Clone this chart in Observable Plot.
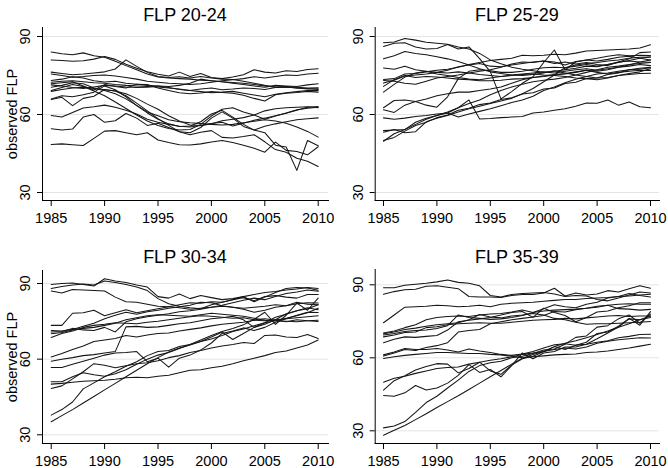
<!DOCTYPE html>
<html>
<head>
<meta charset="utf-8">
<script src="https://cdn.jsdelivr.net/npm/d3@7"></script>
<script src="https://cdn.jsdelivr.net/npm/@observablehq/plot@0.6"></script>
<style>
  html, body { margin: 0; padding: 0; background: #fff; }
  #wrap { position: relative; width: 668px; height: 468px; background: #fff; font-family: "Liberation Sans", Arial, sans-serif; overflow: hidden; }
  .panel { position: absolute; }
  .ttl { position: absolute; width: 220px; text-align: center; font-size: 18px; line-height: 18px; color: #000; white-space: nowrap; }
</style>
</head>
<body>
<div id="wrap"></div>
<script>
// ---------- data ----------
const years = [1985,1986,1987,1988,1989,1990,1991,1992,1993,1994,1995,1996,1997,1998,1999,2000,2001,2002,2003,2004,2005,2006,2007,2008,2009,2010];
const xTicks = [1985,1990,1995,2000,2005,2010];
const yTicks = [30,60,90];
const panelTitles = ["FLP 20-24","FLP 25-29","FLP 30-34","FLP 35-39"];
const yAxisTitle = "observed FLP";

const flp2024 = [
 [84.0,83.4,83.0,83.7,82.6,82.0,80.5,78.8,77.2,75.6,74.4,74.0,73.8,73.6,73.2,73.0,72.6,72.3,72.0,71.5,71.0,70.5,70.6,70.2,70.0,69.6],
 [81.0,80.8,80.5,80.7,81.3,82.3,81.2,79.3,77.8,76.4,75.5,74.8,76.3,74.6,75.8,74.2,73.8,74.4,75.3,77.2,76.3,76.0,76.8,76.5,77.3,77.6],
 [76.3,75.8,75.3,75.6,76.0,76.4,77.5,81.0,78.5,76.2,74.6,74.2,74.5,74.0,74.6,74.0,73.6,73.5,72.8,72.0,71.2,70.6,70.8,70.5,70.2,70.3],
 [75.6,75.0,74.3,74.6,75.0,75.2,74.8,74.2,73.6,72.8,72.4,72.0,71.8,71.5,71.8,72.4,73.0,73.4,73.8,74.5,74.0,74.6,75.2,75.0,75.6,75.9],
 [73.1,73.6,74.5,74.0,73.0,72.5,72.8,72.0,71.6,71.2,71.0,70.4,69.6,69.2,69.8,70.2,69.5,69.8,70.2,70.0,69.6,70.4,70.6,70.2,69.8,69.9],
 [72.4,72.8,73.0,72.6,72.2,72.0,71.5,71.2,71.0,70.8,70.6,70.2,69.8,69.2,68.8,68.4,68.6,68.9,68.2,67.5,66.8,67.8,68.4,68.8,69.2,69.2],
 [71.8,72.2,72.6,71.0,69.4,71.5,70.8,70.2,71.6,71.5,70.2,69.2,68.4,68.0,68.3,68.8,68.5,68.2,67.4,66.2,65.2,67.6,68.2,68.5,68.9,68.6],
 [71.4,71.0,70.4,70.0,70.6,71.2,71.0,70.6,70.4,70.5,71.0,70.8,71.2,72.0,73.6,73.0,72.6,72.0,71.5,71.0,70.5,71.2,71.0,70.8,71.4,71.8],
 [70.5,71.2,72.2,71.8,70.2,69.5,69.0,68.0,66.2,64.0,62.0,59.5,57.5,56.0,55.8,56.5,57.0,55.6,56.6,57.8,58.6,59.5,60.5,61.6,62.8,63.1],
 [69.2,70.4,71.5,70.8,69.0,67.2,64.8,62.3,59.8,57.5,55.8,54.6,54.0,54.2,56.2,59.4,62.0,62.6,61.0,59.8,58.2,59.4,60.6,61.8,62.4,62.8],
 [68.9,69.6,70.2,70.5,70.0,69.2,68.0,66.0,63.5,61.0,59.5,58.0,57.2,56.8,56.5,56.2,56.0,56.2,56.8,57.4,58.0,57.5,56.6,55.2,53.5,51.3],
 [66.0,67.2,66.8,67.6,68.6,71.0,69.5,66.8,63.4,60.6,58.2,56.4,55.4,55.6,57.2,60.2,61.6,59.0,56.2,54.0,55.5,56.4,57.2,58.0,58.4,58.7],
 [65.8,66.6,63.4,66.2,67.0,69.6,69.0,67.2,64.4,61.4,58.4,55.8,53.4,53.0,55.0,58.6,61.0,58.6,55.4,54.0,53.0,48.2,47.5,38.5,50.0,48.0],
 [59.6,59.0,60.8,62.5,63.0,63.6,62.8,61.6,60.2,58.2,57.0,56.2,55.5,55.2,55.8,56.4,57.6,58.2,58.8,59.8,61.4,62.2,62.6,62.8,63.0,62.6],
 [54.5,54.0,54.4,59.0,60.0,57.0,57.6,60.4,58.6,55.8,56.6,55.0,53.4,52.2,53.2,53.8,51.2,51.0,51.5,52.2,49.5,46.5,45.5,43.2,42.0,40.0],
 [48.5,48.7,48.4,48.1,50.8,53.6,53.8,53.0,52.2,53.0,50.2,49.2,48.4,48.3,48.7,49.4,50.0,49.2,48.2,47.0,45.5,49.4,46.2,45.8,44.5,47.6]
];

const flp2529 = [
 [87.6,87.9,89.2,88.6,87.8,87.4,87.0,86.0,85.2,83.5,81.0,79.5,78.2,77.4,76.8,76.2,76.6,77.2,77.8,78.6,78.4,79.2,80.0,80.8,81.6,82.1],
 [86.2,87.4,87.6,86.0,85.2,85.4,86.9,85.2,86.0,81.5,76.5,66.0,68.8,72.0,74.5,80.0,84.8,77.2,80.2,81.0,80.6,81.2,82.0,82.4,81.6,81.0],
 [81.4,82.6,84.2,83.5,83.0,82.2,81.4,80.4,79.0,77.6,76.4,75.8,75.2,75.0,75.4,76.0,76.8,76.0,75.2,74.6,74.0,74.2,75.0,75.8,76.4,77.6],
 [77.9,77.4,78.6,77.2,76.6,76.2,76.0,76.4,76.0,75.4,75.0,74.6,75.0,75.4,75.6,75.2,75.0,74.6,74.0,73.8,73.4,74.0,75.0,75.4,75.8,75.9],
 [73.5,73.8,75.6,75.8,76.4,77.0,77.4,78.2,79.2,80.0,80.8,81.2,81.6,82.8,82.6,82.8,83.2,83.0,83.6,84.4,84.6,84.8,85.0,85.2,85.6,86.8],
 [73.1,72.8,72.0,71.6,72.8,74.0,74.6,75.2,76.0,76.6,77.2,78.2,79.4,80.2,80.0,80.6,79.6,80.2,79.4,80.0,79.2,78.8,80.2,81.4,83.8,84.0],
 [72.1,73.2,74.8,75.2,75.6,76.2,77.0,78.4,79.0,79.6,78.6,78.4,79.0,79.6,80.2,80.6,80.2,79.0,80.4,81.0,81.6,82.4,83.0,82.6,82.8,82.7],
 [70.8,73.4,75.0,74.2,74.6,74.4,74.0,73.6,73.4,73.0,73.0,73.2,73.6,73.8,74.2,74.8,75.4,75.8,76.4,77.0,76.2,75.6,76.2,76.6,77.0,76.9],
 [68.6,71.6,74.4,76.0,76.6,75.6,75.0,74.2,73.6,73.4,74.0,74.6,75.2,75.6,76.0,76.4,76.0,76.6,77.2,77.6,77.0,77.6,78.2,78.6,79.2,78.8],
 [62.6,65.4,65.6,65.0,63.6,62.8,66.8,73.8,76.6,77.2,76.8,76.2,76.2,76.6,77.4,78.0,78.2,78.0,78.6,79.2,78.6,79.2,80.2,80.6,80.2,80.1],
 [61.8,60.8,63.6,65.0,66.0,67.2,68.0,68.6,68.6,69.2,69.8,70.6,72.0,73.4,74.2,74.6,75.2,75.6,76.2,77.0,76.6,77.2,78.2,79.0,80.2,81.0],
 [58.7,58.2,58.6,59.2,59.6,60.2,60.6,59.0,60.2,61.2,62.2,63.4,64.6,65.6,67.0,69.2,70.6,72.2,73.6,74.6,75.6,76.0,76.6,77.2,77.8,78.2],
 [53.8,54.0,54.2,56.2,58.2,59.6,61.0,62.6,65.6,58.3,58.5,58.8,59.0,59.2,60.6,61.0,61.6,62.2,63.2,64.4,64.3,65.6,63.6,64.8,63.0,62.6],
 [53.2,54.2,53.0,53.4,57.2,58.6,59.6,61.0,62.2,63.2,64.2,65.2,66.2,68.0,70.0,72.6,75.2,78.0,79.0,79.6,80.0,80.6,81.0,81.6,82.0,82.1],
 [50.0,51.2,53.6,55.8,57.0,58.8,59.8,61.6,62.4,63.8,64.4,65.8,66.4,67.9,68.4,69.8,70.2,71.9,72.4,73.8,74.0,75.4,76.0,77.2,77.4,78.0],
 [49.7,52.6,54.2,57.0,58.6,59.6,60.6,62.6,64.2,65.6,67.6,69.2,70.6,71.6,72.6,73.2,73.6,74.2,75.2,76.2,77.2,78.2,78.6,79.2,79.6,80.0]
];

const flp3034 = [
 [89.6,90.0,90.2,89.6,89.0,91.9,91.0,90.4,89.4,88.6,84.8,84.2,85.8,84.0,85.2,84.4,83.6,84.0,84.8,82.8,84.6,86.4,88.0,88.4,88.2,87.3],
 [88.0,88.8,89.4,89.8,89.4,91.0,90.4,89.6,88.6,87.2,84.0,82.0,81.0,80.4,80.0,81.6,82.6,83.6,84.8,85.6,86.4,86.8,87.4,87.8,88.4,88.0],
 [87.0,86.2,87.6,87.4,87.2,87.0,84.6,82.8,82.6,81.8,81.0,80.8,80.4,79.8,80.2,80.6,81.0,80.6,80.2,80.6,81.0,81.6,81.2,82.0,82.4,82.3],
 [73.4,73.4,78.2,78.4,79.4,77.2,78.4,79.6,78.4,79.2,80.0,80.8,81.6,82.4,82.2,82.8,82.6,83.6,84.4,83.2,84.8,85.2,84.6,84.2,85.6,85.6],
 [71.4,71.2,71.8,73.0,74.2,76.0,77.4,78.6,77.8,78.8,79.4,80.2,80.8,81.4,82.6,82.4,81.2,80.6,79.8,78.6,79.4,80.6,81.2,82.6,81.8,81.6],
 [70.8,71.0,72.2,71.6,71.4,72.6,70.8,74.8,76.0,76.8,77.4,78.0,78.8,79.2,79.8,80.6,81.4,82.4,83.4,84.2,83.6,84.8,86.0,86.6,87.4,86.9],
 [70.1,70.6,71.6,72.2,72.6,73.4,74.2,75.6,76.4,77.2,77.6,77.4,77.2,77.0,77.6,78.2,77.8,77.4,77.0,76.2,75.4,75.2,75.0,74.8,75.2,75.4],
 [68.6,70.2,71.2,72.6,73.4,73.8,74.4,74.2,74.0,74.6,75.0,75.6,76.2,76.8,77.2,77.0,76.6,76.2,76.4,75.6,76.0,75.4,74.8,75.6,75.2,74.9],
 [60.9,62.2,63.8,65.2,67.0,67.6,68.2,69.4,68.8,69.6,70.2,70.4,71.2,71.8,72.4,73.2,73.8,74.2,74.6,75.4,75.2,75.6,76.0,76.4,76.8,77.2],
 [59.2,60.0,60.6,61.4,61.8,62.4,63.0,72.8,73.0,72.6,72.8,73.4,74.0,74.4,75.2,76.0,76.4,77.0,75.6,72.6,74.4,76.6,77.8,79.2,80.4,79.6],
 [56.7,56.7,58.0,59.2,60.4,61.6,62.4,62.6,63.0,59.0,60.4,56.8,60.4,61.6,63.6,66.4,70.2,71.2,72.4,71.4,72.6,74.6,76.0,77.4,78.6,78.5],
 [51.0,51.0,53.0,54.6,53.8,53.2,54.2,55.8,58.0,60.0,61.6,62.6,64.2,65.8,67.6,69.4,71.0,72.2,73.6,75.8,78.6,73.8,77.4,82.2,79.4,84.2],
 [50.1,50.4,50.8,51.2,51.4,51.6,52.0,52.6,52.8,52.6,53.2,53.6,54.6,55.6,55.8,56.6,57.2,58.2,59.4,60.4,61.4,62.6,63.2,64.4,65.6,67.6],
 [48.4,49.4,52.2,55.0,58.2,57.6,56.6,57.4,58.2,58.6,59.4,60.6,61.4,62.6,63.4,64.4,65.2,65.8,66.6,66.2,69.4,69.6,68.8,68.6,69.8,68.2],
 [37.8,40.0,43.0,48.2,50.6,53.0,55.0,57.2,59.0,61.4,63.0,63.4,65.0,65.8,67.0,68.8,70.8,67.8,70.2,72.6,73.8,75.6,78.0,79.2,80.0,81.6],
 [35.2,37.6,40.0,42.6,45.2,47.8,50.4,53.0,55.6,58.2,60.6,62.8,64.4,65.6,67.0,68.0,69.4,71.0,72.0,73.2,74.4,75.2,76.2,77.2,78.4,80.2]
];

const flp3539 = [
 [88.8,88.8,89.8,90.2,90.6,91.2,92.0,91.0,90.6,89.6,85.6,85.0,86.0,86.4,86.6,86.8,86.2,85.2,85.6,85.4,84.0,83.4,84.6,85.8,87.0,86.6],
 [86.1,87.2,88.0,88.2,89.4,89.6,89.0,88.4,85.2,85.0,85.0,84.8,85.6,86.0,86.0,86.6,88.6,85.4,86.6,85.8,86.2,87.6,87.0,88.4,89.6,88.6],
 [74.4,77.6,80.8,81.0,81.2,81.6,81.4,81.0,81.2,81.6,81.0,82.0,82.4,82.6,82.8,83.2,83.6,84.0,84.0,84.4,84.6,84.8,85.2,85.4,85.8,86.1],
 [70.2,71.0,72.4,73.6,75.6,76.6,77.0,77.2,77.0,77.6,78.0,78.2,78.8,79.6,78.6,79.2,79.6,79.8,80.0,80.4,81.2,81.6,82.0,82.2,82.0,82.0],
 [69.9,70.6,71.6,72.2,73.0,73.6,74.0,74.4,75.6,77.8,76.8,76.4,77.2,77.6,78.2,77.6,76.2,75.6,74.6,73.8,74.0,74.0,74.2,74.4,74.6,74.9],
 [69.4,70.0,70.8,71.2,71.4,72.0,73.2,77.6,76.6,76.2,75.8,76.0,76.6,77.4,78.6,80.2,81.8,81.0,80.6,82.0,82.8,84.6,85.2,86.4,85.6,85.0],
 [68.6,69.4,70.4,70.6,72.4,72.8,73.6,74.0,74.2,74.4,74.2,74.2,74.6,75.0,75.4,75.6,75.8,76.2,76.0,76.4,76.8,77.2,77.4,77.0,77.2,77.2],
 [66.2,67.6,68.6,68.4,68.8,69.2,71.4,74.8,75.4,76.0,76.6,77.6,78.6,79.0,76.6,80.4,78.6,77.4,74.8,76.6,78.8,79.2,80.6,81.4,82.6,82.6],
 [60.7,62.0,63.4,63.0,64.2,65.0,66.2,70.6,71.2,71.6,74.0,74.8,75.6,76.2,76.8,77.4,79.0,78.8,79.8,80.4,80.8,81.6,80.2,80.0,79.6,79.9],
 [59.7,60.4,61.0,61.4,61.8,62.2,62.2,62.0,61.8,61.8,61.4,61.2,60.6,60.0,60.4,60.8,61.2,61.4,61.6,62.2,62.4,62.8,63.4,64.0,64.8,65.6],
 [61.2,62.4,63.8,63.4,63.4,63.8,63.2,62.4,63.6,62.8,62.2,61.4,61.0,61.6,62.6,64.0,65.4,65.8,65.2,65.6,66.4,67.0,68.2,68.8,69.6,69.7],
 [50.0,51.6,52.4,53.6,54.6,55.6,56.0,56.2,57.4,58.2,59.0,59.6,60.4,61.4,62.0,62.6,63.4,64.0,63.6,64.4,66.0,66.8,67.4,67.8,68.2,68.1],
 [46.7,50.6,52.6,55.0,56.4,57.6,57.4,53.8,55.6,58.2,54.6,53.2,57.0,59.6,60.6,62.6,64.6,63.4,65.2,66.4,70.0,70.6,73.0,76.2,73.4,79.0],
 [44.5,44.2,45.6,48.6,46.8,47.6,49.6,52.8,57.2,54.0,55.2,52.2,56.8,62.0,59.6,62.0,62.6,64.4,64.4,65.6,67.8,70.2,72.6,76.0,75.6,77.2],
 [31.2,32.0,33.8,37.6,41.6,44.2,47.6,50.8,54.4,56.8,58.0,58.6,60.0,60.6,61.8,63.2,63.6,65.6,68.4,69.0,72.6,73.2,76.0,77.6,74.2,78.0],
 [28.2,30.2,32.2,34.6,37.0,39.6,42.0,44.4,47.0,49.6,52.2,54.8,57.4,59.8,61.4,62.6,64.6,66.0,67.0,68.2,69.6,71.0,72.6,74.0,75.6,76.6]
];

// ---------- layout ----------
const FONT = "'Liberation Sans', Arial, Helvetica, sans-serif";
const panels = [
  {series: flp2024, left: 0,   top: 0,   ml: 42,   mr: 6, mt: 27, mb: 34, xr: [50.7, 317.7], yr: [192, 36],    ytitle: true,  tx: 185,   ty: 5.7},
  {series: flp2529, left: 334, top: 0,   ml: 40.7, mr: 9, mt: 27, mb: 34, xr: [49, 316],     yr: [192, 36],    ytitle: false, tx: 516.8, ty: 5.7},
  {series: flp3034, left: 0,   top: 234, ml: 42,   mr: 6, mt: 36, mb: 25, xr: [50.7, 317.7], yr: [200.3, 49],  ytitle: true,  tx: 185,   ty: 248.2},
  {series: flp3539, left: 334, top: 234, ml: 40.7, mr: 9, mt: 35, mb: 25, xr: [49, 316],     yr: [196.3, 50.3],ytitle: false, tx: 516.8, ty: 248.2}
];

const wrap = document.getElementById("wrap");

panels.forEach((p, k) => {
  const rows = [];
  p.series.forEach((vals, i) => {
    vals.forEach((v, j) => { if (j < years.length) rows.push({id: i, year: years[j], v}); });
  });
  const marks = [
    Plot.gridY(yTicks, {stroke: "#e4e4e4", strokeOpacity: 1, strokeWidth: 1}),
    Plot.line(rows, {x: "year", y: "v", z: "id", stroke: "#161616", strokeWidth: 1.05}),
    Plot.frame({anchor: "left", stroke: "#000", strokeWidth: 1}),
    Plot.frame({anchor: "bottom", stroke: "#000", strokeWidth: 1}),
    Plot.axisX(xTicks, {tickSize: 6, tickPadding: 6, tickFormat: d => String(d), label: null, fontSize: 14.5, stroke: "#000"}),
    Plot.axisY(yTicks, {tickSize: 5, tickFormat: () => "", label: null, stroke: "#000"}),
    Plot.text(yTicks, {y: d => d, text: d => String(d), frameAnchor: "left", textAnchor: "middle", lineAnchor: "middle", dx: -17, rotate: -90, fontSize: 14.5, fill: "#000"})
  ];
  if (p.ytitle) {
    marks.push(Plot.text([yAxisTitle], {text: d => d, frameAnchor: "left", textAnchor: "middle", lineAnchor: "middle", dx: -30, rotate: -90, fontSize: 14.5, fill: "#000"}));
  }
  const svg = Plot.plot({
    width: 334, height: 234,
    marginLeft: p.ml, marginRight: p.mr, marginTop: p.mt, marginBottom: p.mb,
    style: {fontFamily: FONT, fontSize: "14.5px", background: "transparent", color: "#000", overflow: "visible"},
    x: {domain: [1985, 2010], range: p.xr},
    y: {domain: [30, 90], range: p.yr},
    marks
  });
  svg.classList.add("panel");
  svg.style.left = p.left + "px";
  svg.style.top = p.top + "px";
  wrap.appendChild(svg);

  const t = document.createElement("div");
  t.className = "ttl";
  t.textContent = panelTitles[k];
  t.style.left = (p.tx - 110) + "px";
  t.style.top = p.ty + "px";
  t.style.fontFamily = FONT;
  wrap.appendChild(t);
});
</script>
</body>
</html>
